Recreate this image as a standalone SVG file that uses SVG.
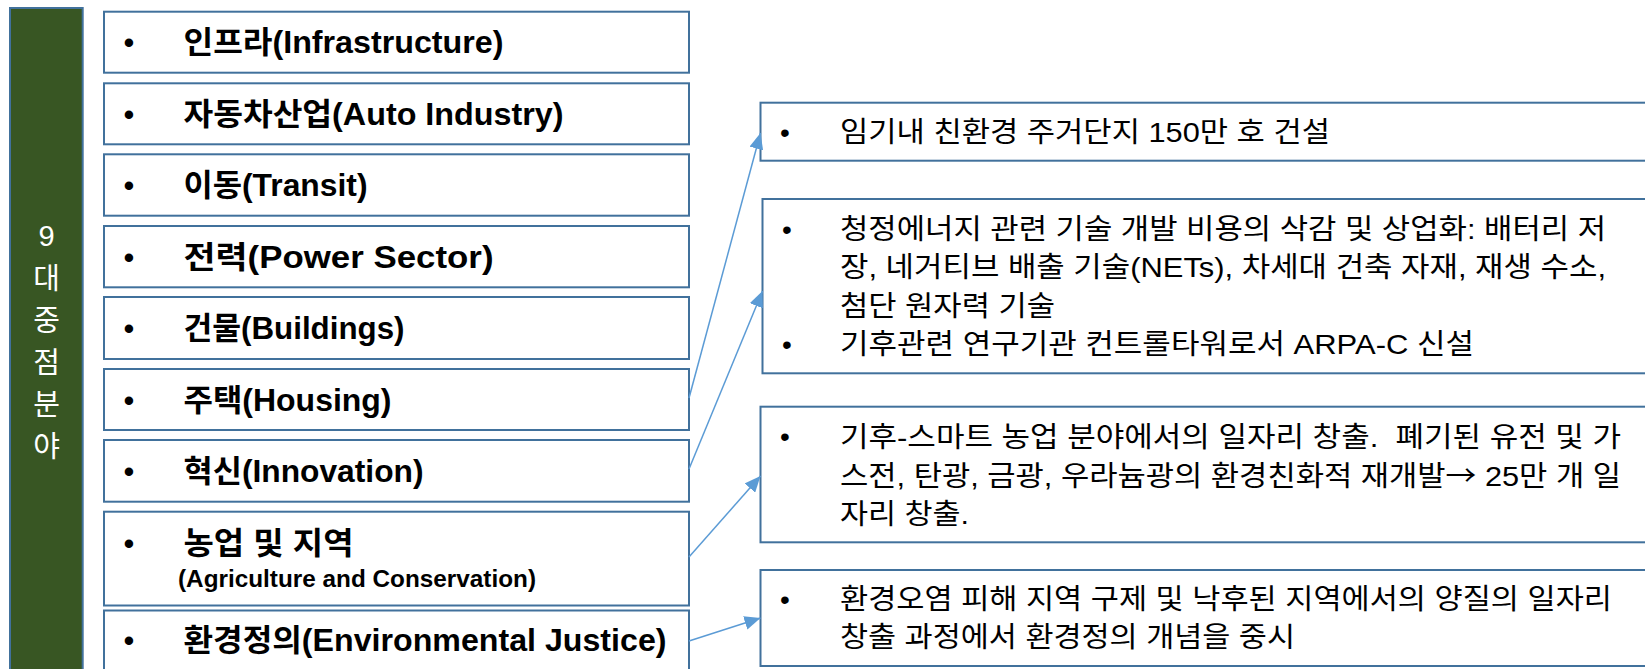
<svg xmlns="http://www.w3.org/2000/svg" width="1645" height="669" viewBox="0 0 1645 669">
  <style>
    .side { fill: #385623; stroke: #41719C; stroke-width: 2; }
    .side-text { font-family: "Liberation Sans", "Noto Sans CJK KR", sans-serif; font-size: 29px; fill: #ffffff; text-anchor: middle; }
    .box { fill: #ffffff; stroke: #41719C; stroke-width: 2; }
    .cat { font-family: "Liberation Sans", "Noto Sans CJK KR", sans-serif; font-size: 31px; font-weight: bold; fill: #000000; }
    .cat-sub { font-family: "Liberation Sans", "Noto Sans CJK KR", sans-serif; font-size: 24px; font-weight: bold; fill: #000000; }
    .bul-l { font-family: "Liberation Sans", sans-serif; font-size: 31px; fill: #000000; text-anchor: middle; }
    .desc { font-family: "Liberation Sans", "Noto Sans CJK KR", sans-serif; font-size: 28px; fill: #000000; }
    .bul-r { font-family: "Liberation Sans", sans-serif; font-size: 28px; fill: #000000; text-anchor: middle; }
    .cjk { font-family: "Noto Sans CJK KR", sans-serif; }
    .link { fill: none; stroke: #5B9BD5; stroke-width: 1.5; marker-end: url(#arrow); }
  </style>
  <defs>
    <marker id="arrow" markerUnits="userSpaceOnUse" markerWidth="16" markerHeight="14" refX="16" refY="7" orient="auto">
      <path d="M0,0 L16,7 L0,14 Z" fill="#5B9BD5"/>
    </marker>
  </defs>

  <!-- vertical title bar -->
  <g id="title-bar">
    <rect class="side" x="10" y="8" width="72.7" height="680"/>
    <text class="side-text" x="46.5" y="246">9</text>
    <text class="side-text" x="46.5" y="289">대</text>
    <text class="side-text" x="46.5" y="331">중</text>
    <text class="side-text" x="46.5" y="373">점</text>
    <text class="side-text" x="46.5" y="415">분</text>
    <text class="side-text" x="46.5" y="457">야</text>
  </g>

  <!-- nine focus areas -->
  <g id="area-infrastructure">
    <rect class="box" x="104" y="11.7" width="585" height="61"/>
    <text class="bul-l" x="129" y="53">•</text>
    <text class="cat" x="183.5" y="53" textLength="320" lengthAdjust="spacingAndGlyphs">인프라(Infrastructure)</text>
  </g>
  <g id="area-auto">
    <rect class="box" x="104" y="83.3" width="585" height="61"/>
    <text class="bul-l" x="129" y="125">•</text>
    <text class="cat" x="183.5" y="125" textLength="380" lengthAdjust="spacingAndGlyphs">자동차산업(Auto Industry)</text>
  </g>
  <g id="area-transit">
    <rect class="box" x="104" y="154.3" width="585" height="61.4"/>
    <text class="bul-l" x="129" y="196">•</text>
    <text class="cat" x="183.5" y="196" textLength="184" lengthAdjust="spacingAndGlyphs">이동(Transit)</text>
  </g>
  <g id="area-power">
    <rect class="box" x="104" y="226" width="585" height="61.3"/>
    <text class="bul-l" x="129" y="267.5">•</text>
    <text class="cat" x="183.5" y="267.5" textLength="310" lengthAdjust="spacingAndGlyphs">전력(Power Sector)</text>
  </g>
  <g id="area-buildings">
    <rect class="box" x="104" y="297" width="585" height="62"/>
    <text class="bul-l" x="129" y="338.5">•</text>
    <text class="cat" x="183.5" y="338.5" textLength="221" lengthAdjust="spacingAndGlyphs">건물(Buildings)</text>
  </g>
  <g id="area-housing">
    <rect class="box" x="104" y="369" width="585" height="61"/>
    <text class="bul-l" x="129" y="410.5">•</text>
    <text class="cat" x="183.5" y="410.5" textLength="208" lengthAdjust="spacingAndGlyphs">주택(Housing)</text>
  </g>
  <g id="area-innovation">
    <rect class="box" x="104" y="440" width="585" height="61.7"/>
    <text class="bul-l" x="129" y="481.5">•</text>
    <text class="cat" x="183.5" y="481.5" textLength="240" lengthAdjust="spacingAndGlyphs">혁신(Innovation)</text>
  </g>
  <g id="area-agriculture">
    <rect class="box" x="104" y="511.7" width="585" height="93.8"/>
    <text class="bul-l" x="129" y="554">•</text>
    <text class="cat" x="183.5" y="554" textLength="170" lengthAdjust="spacingAndGlyphs">농업 및 지역</text>
    <text class="cat-sub" x="178" y="586.5" textLength="358" lengthAdjust="spacingAndGlyphs">(Agriculture and Conservation)</text>
  </g>
  <g id="area-justice">
    <rect class="box" x="104" y="610.5" width="585" height="61"/>
    <text class="bul-l" x="129" y="651">•</text>
    <text class="cat" x="183.5" y="651" textLength="483" lengthAdjust="spacingAndGlyphs">환경정의(Environmental Justice)</text>
  </g>

  <!-- detail notes -->
  <g id="note-housing">
    <rect class="box" x="760.5" y="102.7" width="900" height="58"/>
    <text class="bul-r" x="785" y="142">•</text>
    <text class="desc" x="840" y="142" textLength="490" lengthAdjust="spacingAndGlyphs">임기내 친환경 주거단지 150만 호 건설</text>
  </g>
  <g id="note-innovation">
    <rect class="box" x="762.5" y="199" width="900" height="174.3"/>
    <text class="bul-r" x="787" y="238.5">•</text>
    <text class="desc" x="840" y="238.5" textLength="766" lengthAdjust="spacingAndGlyphs">청정에너지 관련 기술 개발 비용의 삭감 및 상업화: 배터리 저</text>
    <text class="desc" x="840" y="277" textLength="766" lengthAdjust="spacingAndGlyphs">장, 네거티브 배출 기술(NETs), 차세대 건축 자재, 재생 수소,</text>
    <text class="desc" x="840" y="315.5" textLength="215" lengthAdjust="spacingAndGlyphs">첨단 원자력 기술</text>
    <text class="bul-r" x="787" y="353.5">•</text>
    <text class="desc" x="840" y="353.5" textLength="634" lengthAdjust="spacingAndGlyphs">기후관련 연구기관 컨트롤타워로서 ARPA-C 신설</text>
  </g>
  <g id="note-agriculture">
    <rect class="box" x="760.5" y="406.7" width="900" height="135.6"/>
    <text class="bul-r" x="785" y="446">•</text>
    <text class="desc" x="840" y="447" textLength="781" lengthAdjust="spacingAndGlyphs" xml:space="preserve">기후-스마트 농업 분야에서의 일자리 창출.  폐기된 유전 및 가</text>
    <text class="desc" x="840" y="485.5" textLength="781" lengthAdjust="spacingAndGlyphs">스전, 탄광, 금광, 우라늄광의 환경친화적 재개발<tspan class="cjk">→</tspan> 25만 개 일</text>
    <text class="desc" x="840" y="524" textLength="129" lengthAdjust="spacingAndGlyphs">자리 창출.</text>
  </g>
  <g id="note-justice">
    <rect class="box" x="760.5" y="570" width="900" height="96"/>
    <text class="bul-r" x="785" y="608.5">•</text>
    <text class="desc" x="840" y="608.5" textLength="772" lengthAdjust="spacingAndGlyphs">환경오염 피해 지역 구제 및 낙후된 지역에서의 양질의 일자리</text>
    <text class="desc" x="840" y="647" textLength="455" lengthAdjust="spacingAndGlyphs">창출 과정에서 환경정의 개념을 중시</text>
  </g>

  <!-- connectors -->
  <g id="connectors">
    <line class="link" x1="689" y1="398" x2="760.5" y2="133"/>
    <line class="link" x1="689" y1="469" x2="762.5" y2="291"/>
    <line class="link" x1="689" y1="557" x2="760.5" y2="476"/>
    <line class="link" x1="689" y1="641" x2="760.5" y2="618"/>
  </g>
</svg>
